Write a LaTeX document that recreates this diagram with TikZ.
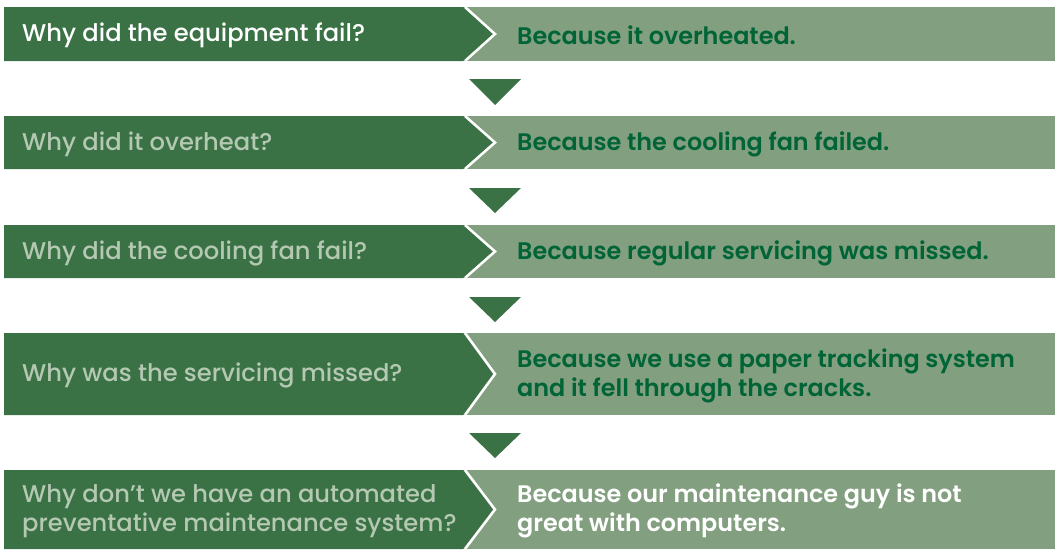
\documentclass[tikz,border=0pt]{standalone}
\usepackage{fontspec}
\setmainfont{Poppins}[UprightFont=* Medium, BoldFont=* SemiBold]
\usepackage{tikz}
\usetikzlibrary{positioning}
\definecolor{whydark}{RGB}{58,114,70}
\definecolor{whylight}{RGB}{130,159,128}
\definecolor{whytext}{RGB}{180,200,178}
\definecolor{becausetext}{RGB}{0,100,55}
\tikzset{
  question/.style={anchor=west, inner sep=0pt, align=left, yshift=-1.5pt, font=\fontsize{24.2}{29}\selectfont, text=whytext},
  answer/.style={anchor=west, inner sep=0pt, align=left, yshift=-1.5pt, font=\fontsize{23.9}{29}\selectfont\bfseries, text=becausetext},
  downtri/.style={fill=whydark}
}

\begin{document}
\begin{tikzpicture}[x=1pt,y=-1pt]
\useasboundingbox (0,0) rectangle (1056,549);
% bands: light box, dark chevron, white seam
\fill[whylight] (4,7) rectangle (1055,61);
\fill[whydark] (4,7)--(463,7)--(493,34)--(463,61)--(4,61)--cycle;
\draw[white, line width=2.5pt] (465,7)--(495,34)--(465,61);
\fill[whylight] (4,116) rectangle (1055,169);
\fill[whydark] (4,116)--(463,116)--(493,142.5)--(463,169)--(4,169)--cycle;
\draw[white, line width=2.5pt] (465,116)--(495,142.5)--(465,169);
\fill[whylight] (4,225) rectangle (1055,278);
\fill[whydark] (4,225)--(463,225)--(493,251.5)--(463,278)--(4,278)--cycle;
\draw[white, line width=2.5pt] (465,225)--(495,251.5)--(465,278);
\fill[whylight] (4,333) rectangle (1055,415);
\fill[whydark] (4,333)--(463,333)--(493,374)--(463,415)--(4,415)--cycle;
\draw[white, line width=2.5pt] (465,333)--(495,374)--(465,415);
\fill[whylight] (4,470) rectangle (1055,549);
\fill[whydark] (4,470)--(463,470)--(493,509.5)--(463,549)--(4,549)--cycle;
\draw[white, line width=2.5pt] (465,470)--(495,509.5)--(465,549);
% questions
\node[question, text=white] (q1) at (22,34) {Why did the equipment fail?};
\node[question] (q2) at (22,142.5) {Why did it overheat?};
\node[question] (q3) at (22,251.5) {Why did the cooling fan fail?};
\node[question] (q4) at (22,374) {Why was the servicing missed?};
\node[question] (q5) at (22,509.5) {Why don’t we have an automated\\preventative maintenance system?};
% answers
\node[answer] (a1) at (517,34) {Because it overheated.};
\node[answer] (a2) at (517,142.5) {Because the cooling fan failed.};
\node[answer] (a3) at (517,251.5) {Because regular servicing was missed.};
\node[answer] (a4) at (517,374) {Because we use a paper tracking system\\and it fell through the cracks.};
\node[answer, text=white] (a5) at (517,509.5) {Because our maintenance guy is not\\great with computers.};
% arrows down
\fill[downtri] (469,79)--(521,79)--(495,105)--cycle;
\fill[downtri] (469,188)--(521,188)--(495,213)--cycle;
\fill[downtri] (469,297)--(521,297)--(495,322)--cycle;
\fill[downtri] (469,433)--(521,433)--(495,458)--cycle;
\end{tikzpicture}
\end{document}
